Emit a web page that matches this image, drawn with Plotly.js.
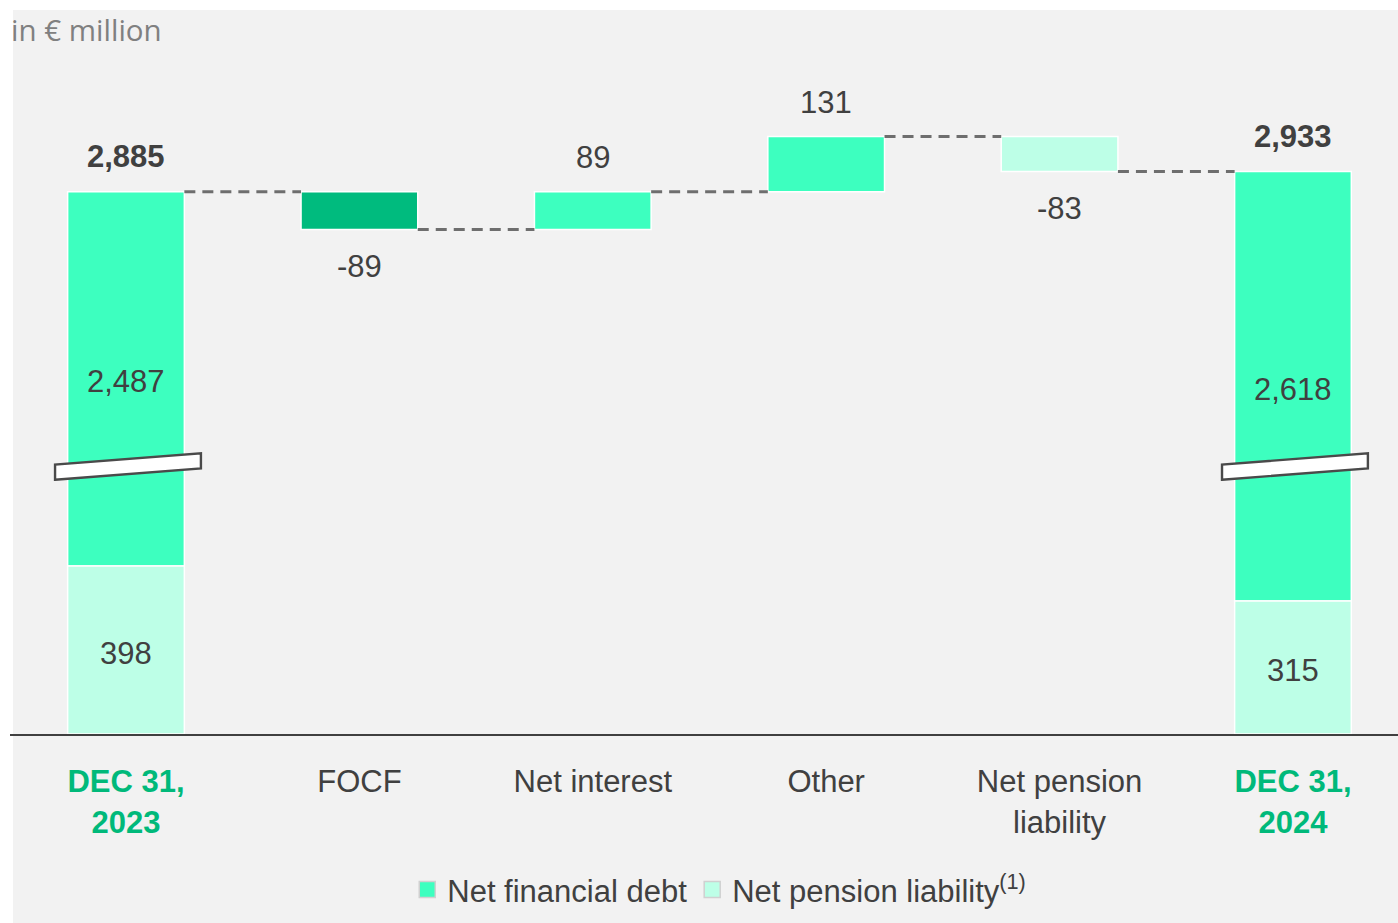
<!DOCTYPE html>
<html>
<head>
<meta charset="utf-8">
<script src="https://cdn.plot.ly/plotly-3.0.1.min.js"></script>
<style>html,body{margin:0;padding:0;background:#fff;}#chart{width:1398px;height:923px;}</style>
</head>
<body>
<div id="chart"></div>
<script>
// ---- data ----
const categories = ['DEC 31, 2023', 'FOCF', 'Net interest', 'Other', 'Net pension liability', 'DEC 31, 2024'];
const tickLines = [['DEC 31,', '2023'], ['FOCF'], ['Net interest'], ['Other'], ['Net pension', 'liability'], ['DEC 31,', '2024']];
const isTotal = [true, false, false, false, false, true];
const startNFD = 2487;
const startPension = 398;
const changeValues = [-89, 89, 131, -83];          // FOCF, Net interest, Other, Net pension liability
const changeSeries = ['nfd', 'nfd', 'nfd', 'pension'];
const endNFD = 2618;
const endPension = 315;
const seriesNames = ['Net financial debt', 'Net pension liability<sup>(1)</sup>'];

// ---- styles ----
const C_BRIGHT = '#3dffbf', C_LIGHT = '#bdffe7', C_DARK = '#00bb7e', C_GREEN_TXT = '#00b97a';
const TXT = '#404040';
const FONT = 'Liberation Sans, Arial, sans-serif';

// ---- broken axis transform ----
const BREAK_LO = 637, SHIFT = 1601, BREAK_HI = BREAK_LO + SHIFT;
function disp(v) { return v <= BREAK_LO ? v : (v >= BREAK_HI ? v - SHIFT : BREAK_LO); }
const fmt = v => v.toLocaleString('en-US');

// cumulative levels
const startTotal = startNFD + startPension;
const levels = [startTotal];
changeValues.forEach(c => levels.push(levels[levels.length - 1] + c));
const endTotal = endNFD + endPension;

const nfd = {x: [], base: [], y: [], colors: []};
const pen = {x: [], base: [], y: [], colors: []};
function addBar(t, xi, lo, hi, col) { t.x.push(xi); t.base.push(disp(lo)); t.y.push(disp(hi) - disp(lo)); t.colors.push(col); }
addBar(nfd, 0, startPension, startTotal, C_BRIGHT);
addBar(pen, 0, 0, startPension, C_LIGHT);
changeValues.forEach((c, i) => {
  const lo = Math.min(levels[i], levels[i + 1]), hi = Math.max(levels[i], levels[i + 1]);
  if (changeSeries[i] === 'nfd') addBar(nfd, i + 1, lo, hi, c < 0 ? C_DARK : C_BRIGHT);
  else addBar(pen, i + 1, lo, hi, C_LIGHT);
});
addBar(nfd, 5, endPension, endTotal, C_BRIGHT);
addBar(pen, 5, 0, endPension, C_LIGHT);

const barLine = {color: '#ffffff', width: 1.5};
const traces = [
  {type: 'bar', name: seriesNames[0], x: nfd.x, y: nfd.y, base: nfd.base, width: 0.5, showlegend: false,
   marker: {color: nfd.colors, line: barLine}, hoverinfo: 'skip'},
  {type: 'bar', name: seriesNames[1], x: pen.x, y: pen.y, base: pen.base, width: 0.5, showlegend: false,
   marker: {color: pen.colors, line: barLine}, hoverinfo: 'skip'}
];

// connectors
const cx = [], cy = [];
for (let i = 0; i < levels.length; i++) {
  cx.push(i + 0.25, i + 0.75, null);
  cy.push(disp(levels[i]), disp(levels[i]), null);
}
traces.push({type: 'scatter', mode: 'lines', x: cx, y: cy, showlegend: false, hoverinfo: 'skip',
  line: {color: '#6e6e6e', width: 3, dash: '11px,7px'}});

// legend entries (square swatches)
[C_BRIGHT, C_LIGHT].forEach((col, i) => {
  traces.push({type: 'scatter', mode: 'markers', name: seriesNames[i], x: [null], y: [null], showlegend: true,
    marker: {symbol: 'square', size: 18, color: col, line: {color: '#d0d0d0', width: 1.5}}, hoverinfo: 'skip'});
});

// annotations
const ann = [];
function lab(x, y, text, yshift, bold) {
  ann.push({x: x, y: y, xref: 'x', yref: 'y', text: bold ? '<b>' + text + '</b>' : text, showarrow: false,
    yshift: yshift, yanchor: 'middle', xanchor: 'center', font: {family: FONT, size: 31, color: TXT}});
}
lab(0, (disp(startPension) + disp(startTotal)) / 2, fmt(startNFD), -3, false);
lab(0, disp(startPension) / 2, fmt(startPension), -4, false);
lab(0, disp(startTotal), fmt(startTotal), 35, true);
lab(5, (disp(endPension) + disp(endTotal)) / 2, fmt(endNFD), -3, false);
lab(5, disp(endPension) / 2, fmt(endPension), -3, false);
lab(5, disp(endTotal), fmt(endTotal), 35, true);
changeValues.forEach((c, i) => {
  if (c >= 0) lab(i + 1, disp(levels[i + 1]), fmt(c), 34, false);
  else lab(i + 1, disp(levels[i + 1]), fmt(c), -37, false);
});
ann.push({xref: 'paper', yref: 'paper', x: -0.0005, y: 1.030, xanchor: 'left', yanchor: 'middle', showarrow: false,
  text: 'in € million', font: {family: 'Open Sans, sans-serif', size: 29.5, color: '#808080'}});

// shapes: background + axis breaks
const shapes = [{type: 'rect', xref: 'paper', yref: 'paper', x0: 0.00216, x1: 1.0, y0: -0.28, y1: 1.0585,
  fillcolor: '#f2f2f2', line: {width: 0}, layer: 'below'}];
[0, 5].forEach(xi => {
  const xl = xi - 0.304, xr = xi + 0.321;
  const yl = 620, yr = 647, h = 18;
  shapes.push({type: 'path', xref: 'x', yref: 'y',
    path: `M${xl},${yl - h}L${xr},${yr - h}L${xr},${yr + h}L${xl},${yl + h}Z`,
    fillcolor: '#ffffff', line: {color: '#4a4a4a', width: 2.4}});
});

const ticktext = tickLines.map((lines, i) => lines.map(l => isTotal[i]
  ? `<span style="color:${C_GREEN_TXT};font-weight:bold">${l}</span>` : l).join('<br>'));

const layout = {
  width: 1398, height: 923,
  margin: {l: 10, r: 0, t: 50, b: 189},
  paper_bgcolor: '#ffffff', plot_bgcolor: 'rgba(0,0,0,0)',
  barmode: 'overlay', showlegend: true,
  font: {family: FONT, size: 31, color: TXT},
  xaxis: {range: [-0.497, 5.45], tickvals: [0, 1, 2, 3, 4, 5], ticktext: ticktext, ticks: '',
    showline: true, linecolor: '#404040', linewidth: 2, showgrid: false, zeroline: false,
    ticklabelstandoff: 19, tickfont: {family: FONT, size: 31, color: TXT}, fixedrange: true},
  yaxis: {range: [0, 1620], visible: false, fixedrange: true},
  legend: {orientation: 'h', x: 0.511, xanchor: 'center', y: -0.228, yanchor: 'middle',
    font: {family: FONT, size: 31, color: TXT}, bgcolor: 'rgba(0,0,0,0)', itemwidth: 30},
  shapes: shapes, annotations: ann
};

Plotly.newPlot('chart', traces, layout, {displayModeBar: false, staticPlot: true});
</script>
</body>
</html>
